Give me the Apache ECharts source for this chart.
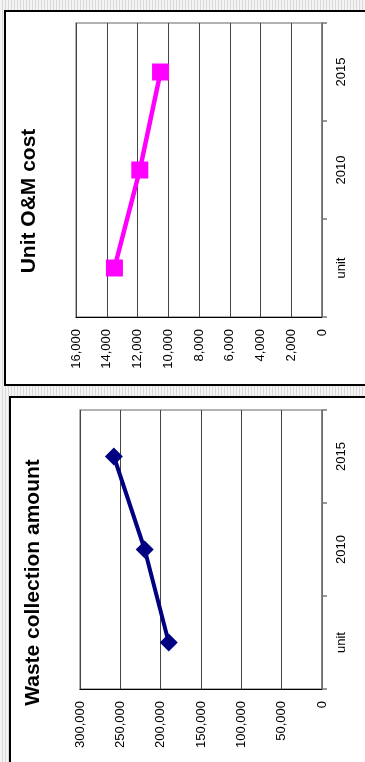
<!DOCTYPE html>
<html>
<head>
<meta charset="utf-8">
<title>Unit O&amp;M cost / Waste collection amount</title>
<script src="https://cdn.jsdelivr.net/npm/echarts@6/dist/echarts.min.js"></script>
<style>
  html, body { margin: 0; padding: 0; }
  #chart {
    width: 365px;
    height: 762px;
    background: repeating-linear-gradient(90deg, #f4f4f4 0px, #f4f4f4 2px, #d9d9d9 2px, #d9d9d9 3px);
  }
</style>
</head>
<body>
<div id="chart"></div>
<script>
// Categories along the (vertical) time axis, bottom to top
const categories = ['unit', '2010', '2015'];

// Unit O&M cost per category
const omCost = [13500, 11850, 10500];

// Waste collection amount per category
const wasteAmount = [190000, 219800, 258000];

// Value axis ranges
const omAxis = { min: 0, max: 16000, interval: 2000 };
const wasteAxis = { min: 0, max: 300000, interval: 50000 };

const FONT = '"Liberation Sans", Arial, sans-serif';

const chart = echarts.init(document.getElementById('chart'), null, { renderer: 'canvas' });

function valueAxis(gridIndex, range) {
  return {
    type: 'value',
    gridIndex: gridIndex,
    position: 'bottom',
    inverse: true,
    min: range.min,
    max: range.max,
    interval: range.interval,
    axisLine: { show: true, lineStyle: { color: '#000', width: 1 } },
    axisTick: { show: false },
    axisLabel: {
      rotate: 90,
      margin: 12,
      color: '#000',
      fontFamily: FONT,
      fontSize: 13,
      formatter: v => v.toLocaleString('en-US')
    },
    splitLine: { show: true, lineStyle: { color: '#444', width: 1 } }
  };
}

function categoryAxis(gridIndex) {
  return {
    type: 'category',
    gridIndex: gridIndex,
    position: 'right',
    data: categories,
    boundaryGap: true,
    axisLine: { show: true, lineStyle: { color: '#777', width: 1.5 } },
    axisTick: { show: true, inside: false, length: 5, lineStyle: { color: '#777', width: 1.5 } },
    axisLabel: {
      rotate: 90,
      margin: 13,
      color: '#000',
      fontFamily: FONT,
      fontSize: 13
    },
    splitLine: { show: false }
  };
}

const option = {
  animation: false,
  graphic: [
    {
      type: 'rect', z: -10,
      shape: { x: 5, y: 11, width: 420, height: 374 },
      style: { fill: '#fff', stroke: '#000', lineWidth: 2 }
    },
    {
      type: 'rect', z: -10,
      shape: { x: 10, y: 397, width: 420, height: 420 },
      style: { fill: '#fff', stroke: '#000', lineWidth: 2 }
    },
    {
      type: 'text', x: 29.5, y: 201, rotation: Math.PI / 2,
      style: {
        text: 'Unit O&M cost',
        font: 'bold 21px ' + FONT,
        fill: '#000',
        align: 'center', verticalAlign: 'middle',
        textAlign: 'center', textVerticalAlign: 'middle'
      }
    },
    {
      type: 'text', x: 33.5, y: 582.5, rotation: Math.PI / 2,
      style: {
        text: 'Waste collection amount',
        font: 'bold 21px ' + FONT,
        fill: '#000',
        align: 'center', verticalAlign: 'middle',
        textAlign: 'center', textVerticalAlign: 'middle'
      }
    }
  ],
  grid: [
    {
      left: 76, top: 23, width: 246, height: 294,
      show: true, backgroundColor: '#fff',
      borderColor: '#999', borderWidth: 1.5
    },
    {
      left: 80, top: 410, width: 242, height: 279,
      show: true, backgroundColor: '#fff',
      borderColor: '#999', borderWidth: 1.5
    }
  ],
  xAxis: [valueAxis(0, omAxis), valueAxis(1, wasteAxis)],
  yAxis: [categoryAxis(0), categoryAxis(1)],
  series: [
    {
      name: 'Unit O&M cost',
      type: 'line',
      xAxisIndex: 0,
      yAxisIndex: 0,
      data: omCost,
      symbol: 'rect',
      symbolSize: 17,
      lineStyle: { color: '#ff00ff', width: 4.5 },
      itemStyle: { color: '#ff00ff' },
      z: 5
    },
    {
      name: 'Waste collection amount',
      type: 'line',
      xAxisIndex: 1,
      yAxisIndex: 1,
      data: wasteAmount,
      symbol: 'diamond',
      symbolSize: 18,
      lineStyle: { color: '#000080', width: 4 },
      itemStyle: { color: '#000080' },
      z: 5
    }
  ]
};

chart.setOption(option);
</script>
</body>
</html>
